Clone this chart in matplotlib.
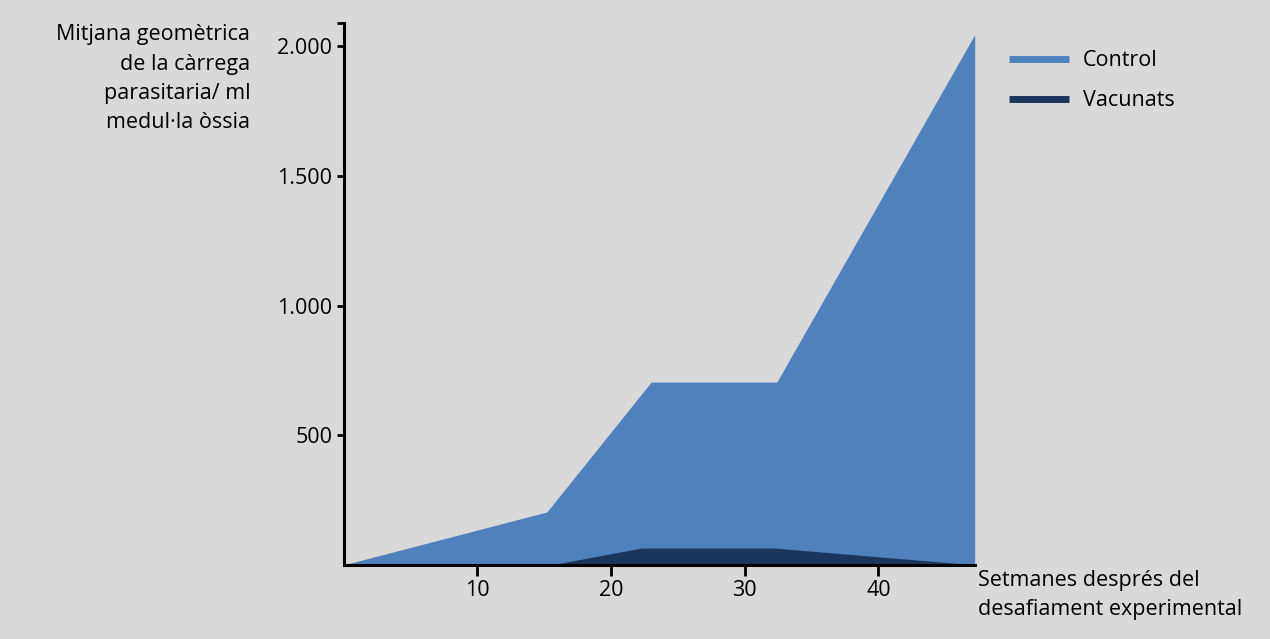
import matplotlib
matplotlib.use("Agg")
import matplotlib.pyplot as plt
from matplotlib.lines import Line2D

# setmanes després del desafiament
weeks_control = [0, 15.2, 23.0, 32.4, 47.2]
control = [0, 204, 705, 705, 2045]
weeks_vac = [11.8, 15.5, 22.3, 32.2, 47.2]
vacunats = [0, 0, 65, 65, 0]

ytick_vals = [500, 1000, 1500, 2000]
ytick_labels = ["500", "1.000", "1.500", "2.000"]
xtick_vals = [10, 20, 30, 40]

BG = "#D9D9D9"
C_CONTROL = "#4F81BD"
C_VAC = "#1B365D"
FS = 15.5

plt.rcParams["font.family"] = ["Open Sans", "DejaVu Sans"]

fig = plt.figure(figsize=(12.7, 6.39), dpi=100, facecolor=BG)
ax = fig.add_axes([0.2705, 0.116, 0.497, 0.848])
ax.set_facecolor(BG)

ax.fill_between(weeks_control, control, 0, color=C_CONTROL, lw=0, zorder=1)
ax.fill_between(weeks_vac, vacunats, 0, color=C_VAC, lw=0, zorder=2)

ax.set_xlim(0, 47.2)
ytop = 2090
ax.set_ylim(0, ytop)
ax.set_xticks(xtick_vals)
ax.set_yticks(ytick_vals + [ytop])
ax.set_yticklabels(ytick_labels + [""])

for side in ["top", "right"]:
    ax.spines[side].set_visible(False)
for side in ["left", "bottom"]:
    ax.spines[side].set_linewidth(2.2)
    ax.spines[side].set_color("black")
    ax.spines[side].set_zorder(5)
ax.tick_params(axis="x", direction="out", length=8, width=2, labelsize=FS, pad=3)
ax.tick_params(axis="y", direction="out", length=5, width=2, labelsize=FS, pad=3)

fig.text(0.197, 0.962, "Mitjana geomètrica\nde la càrrega\nparasitaria/ ml\nmedul·la òssia",
         ha="right", va="top", fontsize=FS, linespacing=1.52)
fig.text(0.770, 0.108, "Setmanes després del\ndesafiament experimental",
         ha="left", va="top", fontsize=FS, linespacing=1.52)

handles = [Line2D([], [], color=C_CONTROL, lw=5, solid_capstyle="butt"),
           Line2D([], [], color=C_VAC, lw=5, solid_capstyle="butt")]
fig.legend(handles, ["Control", "Vacunats"], loc="upper left",
           bbox_to_anchor=(0.7795, 0.952), frameon=False, fontsize=FS,
           handlelength=2.75, handletextpad=0.65, labelspacing=0.9)

fig.savefig("out.png", dpi=100, facecolor=BG)
